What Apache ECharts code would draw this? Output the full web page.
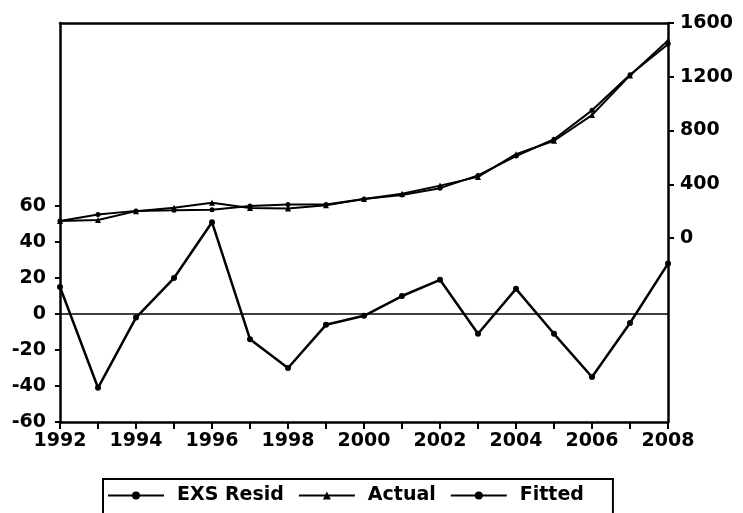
<!DOCTYPE html>
<html>
<head>
<meta charset="utf-8">
<script src="https://cdn.jsdelivr.net/npm/echarts@6/dist/echarts.min.js"></script>
<style>html,body{margin:0;padding:0;background:#fff}#c{width:743px;height:513px}</style>
</head>
<body>
<div id="c"></div>
<script>
const years = ['1992','1993','1994','1995','1996','1997','1998','1999','2000','2001','2002','2003','2004','2005','2006','2007','2008'];
const resid = [15,-41,-2,20,51,-14,-30,-6,-1,10,19,-11,14,-11,-35,-5,28];
const actual = [126,134,200,226,262,224,220,243,290,330,390,455,624,724,915,1210,1470];
const fitted = [126,175,202,206,211,238,250,249,291,320,371,466,610,735,950,1215,1442];
const leftTicks = [-60,-40,-20,0,20,40,60];
const rightTicks = [0,400,800,1200,1600];

const FONT = 'DejaVu Sans';
const lbl = {color:'#000', fontFamily:FONT, fontWeight:'bold', fontSize:19};
const axLine = {show:true, onZero:false, lineStyle:{color:'#000', width:2.5}};
const chart = echarts.init(document.getElementById('c'));
chart.setOption({
  animation:false,
  backgroundColor:'#fff',
  grid:{left:60, right:75, top:23, bottom:91},
  legend:{
    left:103, top:479,
    padding:[7,29,20,4],
    borderColor:'#000', borderWidth:2,
    itemWidth:56, itemHeight:10, itemGap:14,
    textStyle:{color:'#000', fontFamily:FONT, fontWeight:'bold', fontSize:19, padding:[0,0,0,8]},
    data:['EXS Resid','Actual','Fitted']
  },
  xAxis:[
    {type:'category', data:years, boundaryGap:false, position:'bottom',
     axisLine:axLine,
     axisTick:{show:true, inside:false, length:7, alignWithLabel:true, lineStyle:{color:'#000', width:2}, interval:0},
     axisLabel:Object.assign({interval:1, margin:10}, lbl),
     splitLine:{show:false}},
    {type:'category', data:years, boundaryGap:false, position:'top',
     axisLine:axLine, axisTick:{show:false}, axisLabel:{show:false}, splitLine:{show:false}}
  ],
  yAxis:[
    {type:'value', position:'left', min:-60, max:161.7, interval:20,
     axisLine:axLine,
     axisTick:{show:true, length:5, customValues:leftTicks, lineStyle:{color:'#000', width:2}},
     axisLabel:Object.assign({customValues:leftTicks, margin:14}, lbl),
     splitLine:{show:false}},
    {type:'value', position:'right', min:-1369, max:1600,
     axisLine:axLine,
     axisTick:{show:true, length:6, customValues:rightTicks, lineStyle:{color:'#000', width:2}},
     axisLabel:Object.assign({customValues:rightTicks, margin:12, formatter:function(v){return String(v);}}, lbl),
     splitLine:{show:false}}
  ],
  series:[
    {name:'EXS Resid', type:'line', xAxisIndex:0, yAxisIndex:0, data:resid,
     symbol:'circle', symbolSize:6, showSymbol:true,
     lineStyle:{color:'#000', width:2.5}, itemStyle:{color:'#000'},
     markLine:{silent:true, symbol:'none', label:{show:false},
       lineStyle:{color:'#000', width:1.5, type:'solid'}, data:[{yAxis:0}]}},
    {name:'Actual', type:'line', xAxisIndex:0, yAxisIndex:1, data:actual,
     symbol:'triangle', symbolSize:6,
     lineStyle:{color:'#000', width:2}, itemStyle:{color:'#000'}},
    {name:'Fitted', type:'line', xAxisIndex:0, yAxisIndex:1, data:fitted,
     symbol:'circle', symbolSize:5,
     lineStyle:{color:'#000', width:2}, itemStyle:{color:'#000'}}
  ]
});
</script>
</body>
</html>
